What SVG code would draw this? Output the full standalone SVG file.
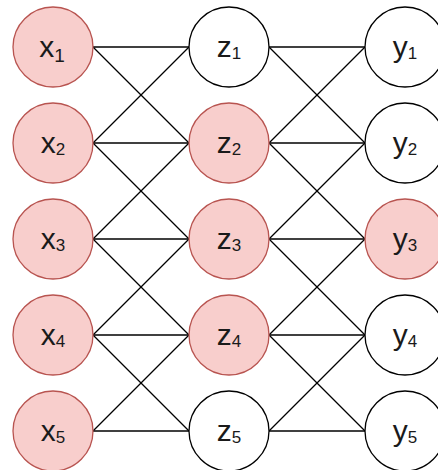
<svg xmlns="http://www.w3.org/2000/svg" width="438" height="470" viewBox="0 0 438 470">
<style>
.n{stroke:#000;stroke-width:1.3;fill:#fff}
.p{fill:#f8cecc;stroke:#b85450}
.t{font-family:"Liberation Sans",Arial,sans-serif;font-size:30px;fill:#1a1a1a;text-anchor:middle}
.s{font-size:17px}
.e line{stroke:#000;stroke-width:1.3}
</style>
<g class="e" id="connectors">
<line x1="93" y1="47" x2="189" y2="47"/><line x1="93" y1="47" x2="189" y2="143"/>
<line x1="93" y1="143" x2="189" y2="47"/><line x1="93" y1="143" x2="189" y2="143"/><line x1="93" y1="143" x2="189" y2="239"/>
<line x1="93" y1="239" x2="189" y2="143"/><line x1="93" y1="239" x2="189" y2="239"/><line x1="93" y1="239" x2="189" y2="335"/>
<line x1="93" y1="335" x2="189" y2="239"/><line x1="93" y1="335" x2="189" y2="335"/><line x1="93" y1="335" x2="189" y2="431"/>
<line x1="93" y1="431" x2="189" y2="335"/><line x1="93" y1="431" x2="189" y2="431"/>
<line x1="269" y1="47" x2="365" y2="47"/><line x1="269" y1="47" x2="365" y2="143"/>
<line x1="269" y1="143" x2="365" y2="47"/><line x1="269" y1="143" x2="365" y2="143"/><line x1="269" y1="143" x2="365" y2="239"/>
<line x1="269" y1="239" x2="365" y2="143"/><line x1="269" y1="239" x2="365" y2="239"/><line x1="269" y1="239" x2="365" y2="335"/>
<line x1="269" y1="335" x2="365" y2="239"/><line x1="269" y1="335" x2="365" y2="335"/><line x1="269" y1="335" x2="365" y2="431"/>
<line x1="269" y1="431" x2="365" y2="335"/><line x1="269" y1="431" x2="365" y2="431"/>
</g>
<g id="x1"><circle class="n p" cx="53" cy="47" r="40"/><text class="t" x="52" y="57.3">x<tspan style="font-size:19px" dy="4.4">1</tspan></text></g>
<g id="x2"><circle class="n p" cx="53" cy="143" r="40"/><text class="t" x="53" y="153.3">x<tspan class="s" dy="1.5">2</tspan></text></g>
<g id="x3"><circle class="n p" cx="53" cy="239" r="40"/><text class="t" x="53" y="249.3">x<tspan class="s" dy="1.5">3</tspan></text></g>
<g id="x4"><circle class="n p" cx="53" cy="335" r="40"/><text class="t" x="53" y="345.3">x<tspan class="s" dy="1.5">4</tspan></text></g>
<g id="x5"><circle class="n p" cx="53" cy="431" r="40"/><text class="t" x="53" y="441.3">x<tspan class="s" dy="1.5">5</tspan></text></g>
<g id="z1"><circle class="n" cx="229" cy="47" r="40"/><text class="t" x="229" y="57.3">z<tspan class="s" dy="1.5">1</tspan></text></g>
<g id="z2"><circle class="n p" cx="229" cy="143" r="40"/><text class="t" x="229" y="153.3">z<tspan class="s" dy="1.5">2</tspan></text></g>
<g id="z3"><circle class="n p" cx="229" cy="239" r="40"/><text class="t" x="229" y="249.3">z<tspan class="s" dy="1.5">3</tspan></text></g>
<g id="z4"><circle class="n p" cx="229" cy="335" r="40"/><text class="t" x="229" y="345.3">z<tspan class="s" dy="1.5">4</tspan></text></g>
<g id="z5"><circle class="n" cx="229" cy="431" r="40"/><text class="t" x="229" y="441.3">z<tspan class="s" dy="1.5">5</tspan></text></g>
<g id="y1"><circle class="n" cx="405" cy="47" r="40"/><text class="t" x="405" y="57.3">y<tspan class="s" dy="1.5">1</tspan></text></g>
<g id="y2"><circle class="n" cx="405" cy="143" r="40"/><text class="t" x="405" y="153.3">y<tspan class="s" dy="1.5">2</tspan></text></g>
<g id="y3"><circle class="n p" cx="405" cy="239" r="40"/><text class="t" x="405" y="249.3">y<tspan class="s" dy="1.5">3</tspan></text></g>
<g id="y4"><circle class="n" cx="405" cy="335" r="40"/><text class="t" x="405" y="345.3">y<tspan class="s" dy="1.5">4</tspan></text></g>
<g id="y5"><circle class="n" cx="405" cy="431" r="40"/><text class="t" x="405" y="441.3">y<tspan class="s" dy="1.5">5</tspan></text></g>
</svg>
